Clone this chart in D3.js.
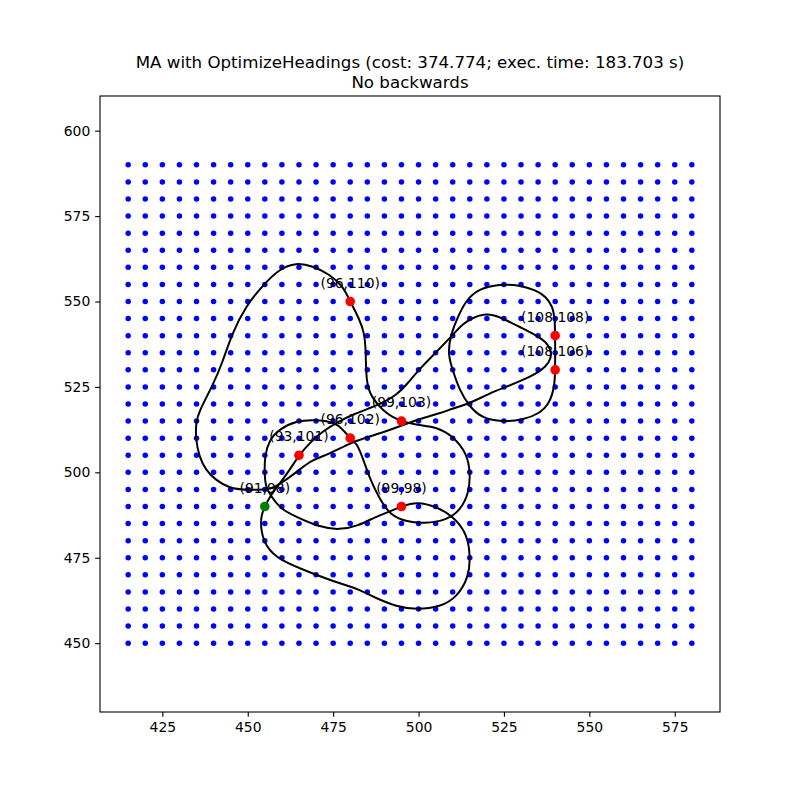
<!DOCTYPE html>
<html>
<head>
<meta charset="utf-8">
<script src="https://cdn.jsdelivr.net/npm/d3@7"></script>
<style>
  html, body { margin: 0; padding: 0; background: #ffffff; }
  svg { display: block; }
  text { font-family: "DejaVu Sans", sans-serif; fill: #000; }
</style>
</head>
<body>
<svg id="chart" width="800" height="800"></svg>
<script>
// ---------------- data ----------------
const titleLines = ["MA with OptimizeHeadings (cost: 374.774; exec. time: 183.703 s)", "No backwards"];

const gridX = [415,420,425,430,435,440,445,450,455,460,465,470,475,480,485,490,495,500,505,510,515,520,525,530,535,540,545,550,555,560,565,570,575,580];
const gridY = [450,455,460,465,470,475,480,485,490,495,500,505,510,515,520,525,530,535,540,545,550,555,560,565,570,575,580,585,590];

const xTicks = [425,450,475,500,525,550,575];
const yTicks = [450,475,500,525,550,575,600];

const targetX = [455,465,480,480,495,495,540,540];
const targetY = [490,505,510,550,515,490,540,530];
const targetLabels = ["(91,98)","(93,101)","(96,102)","(96,110)","(99,103)","(99,98)","(108,108)","(108,106)"];
const targetColors = ["green","red","red","red","red","red","red","red"];

// main route (closed)
const routeX = [455.0,449.5,444.6,440.7,437.7,435.8,434.8,434.8,435.8,439.7,442.6,445.5,449.5,454.3,459.2,464.1,469.0,473.9,477.8,480.0,
  482.7,484.1,484.6,484.6,486.3,489.6,492.3,495.0,499.5,505.4,510.3,514.2,515.2,514.7,512.2,508.3,501.5,496.6,491.7,488.8,
  485.9,483.9,482.0,480.0,478.0,475.8,470.0,464.1,459.2,456.3,455.0,454.9,455.2,456.5,459.5,464.1,470.9,476.8,482.3,487.5,
  491.7,495.0,499.5,505.4,510.3,514.2,515.2,514.7,511.3,506.4,499.5,493.7,486.8,482.0,477.1,469.0,459.2,455.3,453.8,453.9,
  455.0,456.6,460.0,462.6,465.0,468.5,472.0,476.0,481.0,486.0,489.5,493.6,496.5,500.0,505.3,510.0,513.0,516.0,519.0,522.0,
  525.6,529.5,534.4,537.3,538.8,538.8,537.3,534.4,530.5,525.6,520.7,514.9,510.0,506.1,500.4,495.0,490.0,485.0,480.0,474.0,
  468.6,465.7,461.8,458.8,456.4];
const routeY = [495.0,494.8,495.3,497.7,500.6,504.6,509.4,514.6,518.0,525.3,532.1,540.9,548.7,554.6,559.5,561.4,560.4,558.0,554.6,550.0,
  544.8,540.9,536.0,526.3,521.8,518.1,516.2,515.0,513.8,513.3,510.4,505.5,499.7,493.8,488.9,486.0,485.0,485.5,487.5,491.9,
  497.7,503.6,508.5,510.0,512.3,514.6,515.4,515.1,512.6,509.5,505.0,500.0,496.0,493.5,489.3,487.0,484.0,483.1,484.3,487.0,
  488.6,490.0,491.4,489.9,487.0,482.1,475.3,469.4,463.5,460.6,459.8,460.6,463.5,466.0,467.4,470.4,474.3,478.2,483.1,487.5,
  490.0,493.2,497.5,501.2,505.0,509.0,512.0,514.6,517.0,518.9,520.3,522.7,525.6,530.0,535.3,540.2,543.5,545.3,546.3,546.1,
  544.6,542.6,540.2,538.2,535.8,533.3,530.9,528.9,527.0,525.0,523.1,520.1,518.7,517.2,515.7,513.7,511.8,510.3,508.6,505.4,
  503.5,501.2,498.2,496.2,495.1];

// second loop through (108,108) and (108,106)
const loopX = [539.9,540.0,540.0,540.0,539.8,538.3,535.4,530.5,524.6,518.8,514.9,512.0,510.0,508.5,509.5,511.5,513.9,517.8,523.7,529.5,534.4,537.3,539.3];
const loopY = [544.6,539.8,534.8,529.8,525.0,520.1,517.2,515.3,514.8,515.7,519.2,524.0,529.9,534.8,540.6,545.5,550.4,553.8,555.1,554.8,553.3,551.4,548.5];

// ---------------- drawing ----------------
const svg = d3.select("#chart");
svg.append("rect").attr("width", 800).attr("height", 800).attr("fill", "#ffffff");

const axL = 100, axR = 720, axT = 96, axB = 712;
const x = d3.scaleLinear().domain([406.75, 588.25]).range([axL, axR]);
const y = d3.scaleLinear().domain([429.85, 610.15]).range([axB, axT]);

const plot = svg.append("g");
plot.append("clipPath").attr("id", "clip")
  .append("rect").attr("x", axL).attr("y", axT).attr("width", axR - axL).attr("height", axB - axT);
const inner = plot.append("g").attr("clip-path", "url(#clip)");

// grid points
const grid = [];
gridY.forEach(gy => gridX.forEach(gx => grid.push([gx, gy])));
inner.append("g").selectAll("circle").data(grid).join("circle")
  .attr("cx", d => x(d[0])).attr("cy", d => y(d[1])).attr("r", 2.75).attr("fill", "#0000ff");

// route
const line = d3.line().x(d => x(d[0])).y(d => y(d[1])).curve(d3.curveBasisClosed);
const route = routeX.map((v, i) => [v, routeY[i]]);
const loop = loopX.map((v, i) => [v, loopY[i]]);
inner.append("path").attr("d", line(route)).attr("fill", "none").attr("stroke", "#000").attr("stroke-width", 2).attr("stroke-linejoin", "round");
inner.append("path").attr("d", line(loop)).attr("fill", "none").attr("stroke", "#000").attr("stroke-width", 2).attr("stroke-linejoin", "round");

// targets
const targets = targetX.map((v, i) => ({ x: v, y: targetY[i], label: targetLabels[i], color: targetColors[i] }));
inner.append("g").selectAll("circle").data(targets).join("circle")
  .attr("cx", d => x(d.x)).attr("cy", d => y(d.y)).attr("r", 4.8).attr("fill", d => d.color);

svg.append("g").selectAll("text").data(targets).join("text")
  .attr("x", d => x(d.x)).attr("y", d => y(d.y) - 13.9)
  .attr("text-anchor", "middle").attr("font-size", "13.9px")
  .text(d => d.label);

// axes
const xAxis = d3.axisBottom(x).tickValues(xTicks).tickSize(4.86).tickSizeOuter(0).tickPadding(4.86);
const yAxis = d3.axisLeft(y).tickValues(yTicks).tickSize(4.86).tickSizeOuter(0).tickPadding(4.86);
const gX = svg.append("g").attr("transform", `translate(0,${axB})`).call(xAxis);
const gY = svg.append("g").attr("transform", `translate(${axL},0)`).call(yAxis);
[gX, gY].forEach(g => {
  g.select(".domain").remove();
  g.selectAll("line").attr("stroke", "#000").attr("stroke-width", 1.1);
  g.selectAll("text").attr("font-family", "DejaVu Sans").attr("font-size", "13.9px").attr("fill", "#000");
});

svg.append("rect").attr("x", axL).attr("y", axT).attr("width", axR - axL).attr("height", axB - axT)
  .attr("fill", "none").attr("stroke", "#000").attr("stroke-width", 1.1);

// title
const tcx = (axL + axR) / 2;
titleLines.forEach((t, i) => {
  svg.append("text").attr("x", tcx).attr("y", 67.7 + i * 20)
    .attr("text-anchor", "middle").attr("font-size", "16.67px").text(t);
});
</script>
</body>
</html>
